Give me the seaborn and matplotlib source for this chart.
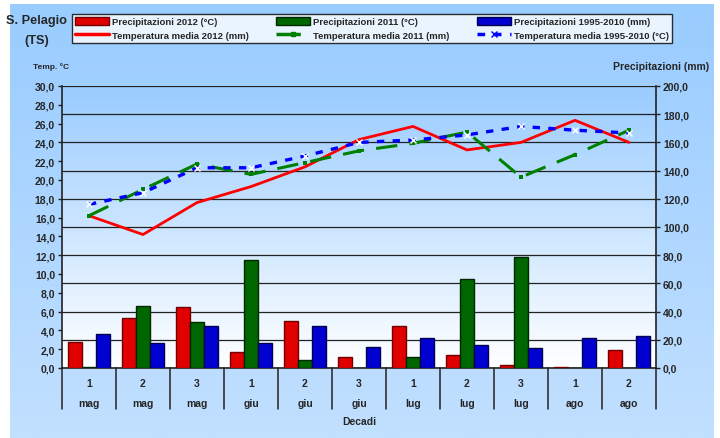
import numpy as np
import matplotlib
matplotlib.use("Agg")
import matplotlib.pyplot as plt
import seaborn as sns
import pandas as pd
from matplotlib.lines import Line2D
from matplotlib.patches import Patch

# --- data ---
decadi = ["1", "2", "3", "1", "2", "3", "1", "2", "3", "1", "2"]
mesi = ["mag", "mag", "mag", "giu", "giu", "giu", "lug", "lug", "lug", "ago", "ago"]

# precipitation (mm), right axis
prec_2012 = [18.7, 35.3, 43.3, 11.0, 33.0, 8.0, 29.5, 9.5, 2.0, 0.8, 12.5]
prec_2011 = [1.0, 44.0, 32.3, 76.3, 6.0, 0.3, 8.0, 63.0, 79.0, 0.0, 0.0]
prec_clim = [24.0, 18.0, 30.0, 18.0, 30.0, 15.0, 21.0, 16.5, 14.0, 21.0, 23.0]

# mean temperature (°C), left axis
temp_2012 = [16.2, 14.2, 17.6, 19.3, 21.4, 24.3, 25.7, 23.2, 24.0, 26.35, 24.0]
temp_2011 = [16.2, 19.0, 21.7, 20.6, 21.85, 23.1, 23.9, 25.1, 20.3, 22.7, 25.3]
temp_clim = [17.4, 18.65, 21.3, 21.3, 22.55, 24.0, 24.25, 24.8, 25.7, 25.3, 25.0]

lbl_p12 = "Precipitazioni 2012 (°C)"
lbl_p11 = "Precipitazioni 2011 (°C)"
lbl_pcl = "Precipitazioni 1995-2010 (mm)"
lbl_t12 = "Temperatura media 2012 (mm)"
lbl_t11 = "Temperatura media 2011 (mm)"
lbl_tcl = "Temperatura media 1995-2010 (°C)"

RED, GREEN, BLUE = "#E00000", "#006600", "#0000D0"

sns.set_style("white")
plt.rcParams["font.family"] = ["Liberation Sans", "DejaVu Sans"]
plt.rcParams["font.weight"] = "bold"

fig = plt.figure(figsize=(7.2, 4.39), dpi=100)

# background panel with a soft vertical gradient
bg = fig.add_axes([0, 0, 1, 1], zorder=-10)
grad = np.linspace(0, 1, 256).reshape(-1, 1)
bg_cmap = matplotlib.colors.LinearSegmentedColormap.from_list("bg", ["#99CCFF", "#C2E0FF"])
bg.imshow(grad, cmap=bg_cmap, aspect="auto", extent=[10 / 720, 714 / 720, 0, 1 - 5 / 439],
          transform=bg.transAxes)
bg.set_xlim(0, 1)
bg.set_ylim(0, 1)
bg.axis("off")

ax = fig.add_axes([62 / 720, 1 - 369 / 439, 594 / 720, 282 / 439])

# plot area gradient
area_cmap = matplotlib.colors.LinearSegmentedColormap.from_list("area", ["#FFFFFF", "#99CCFF"])
ax.imshow(grad, cmap=area_cmap, aspect="auto", extent=[0, 1, 0, 1],
          transform=ax.transAxes, zorder=0, origin="lower")

df = pd.DataFrame({
    "pos": list(range(len(decadi))) * 3,
    "serie": [lbl_p12] * len(decadi) + [lbl_p11] * len(decadi) + [lbl_pcl] * len(decadi),
    "mm": prec_2012 + prec_2011 + prec_clim,
})
sns.barplot(data=df, x="pos", y="mm", hue="serie", ax=ax, width=0.78, saturation=1,
            palette=[RED, GREEN, BLUE], legend=False, zorder=3)
for patch, ec in zip(ax.patches, ["#700000"] * 11 + ["#002800"] * 11 + ["#000050"] * 11):
    patch.set_edgecolor(ec)
    patch.set_linewidth(1.0)

ax.set_xlim(-0.5, len(decadi) - 0.5)
ax.set_ylim(0, 200)
ax.yaxis.grid(True, color="#222222", linewidth=0.9, zorder=1)
ax.set_axisbelow(True)
ax.set_xticks([])
ax.set_xlabel("")
ax.set_ylabel("")
ax.spines["top"].set_visible(False)
for s in ["left", "right", "bottom"]:
    ax.spines[s].set_color("#222222")
    ax.spines[s].set_linewidth(1.2)

ax2 = ax.twinx()
pos = np.arange(len(decadi))
sns.lineplot(x=pos, y=temp_2012, ax=ax2, color="#FF0000", linewidth=2.0, zorder=5)
sns.lineplot(x=pos, y=temp_2011, ax=ax2, color="#008000", linewidth=2.2, zorder=5,
             marker="s", markersize=3, markeredgewidth=0)
ax2.lines[-1].set_dashes([7, 4])
sns.lineplot(x=pos, y=temp_clim, ax=ax2, color="#0000FF", linewidth=2.4, zorder=6,
             marker="x", markersize=4, markeredgewidth=1)
ax2.lines[-1].set_dashes([2.2, 2.5])
ax2.set_ylim(0, 30)
ax2.set_ylabel("")
for s in ax2.spines.values():
    s.set_visible(False)

# swap sides: precipitation ticks on the right, temperature on the left
ax.yaxis.tick_right()
ax.set_yticks(np.arange(0, 201, 20))
ax.set_yticklabels([f"{v:.1f}".replace(".", ",") for v in np.arange(0, 201, 20)],
                   fontsize=7.5, fontweight="bold")
ax.tick_params(axis="y", length=3, width=1, color="#222222", pad=2)
ax2.yaxis.tick_left()
ax2.set_yticks(np.arange(0, 31, 2))
ax2.set_yticklabels([f"{v:.1f}".replace(".", ",") for v in np.arange(0, 31, 2)],
                    fontsize=7.5, fontweight="bold")
ax2.tick_params(axis="y", length=3, width=1, color="#222222", pad=2)

# category labels under the axis, two rows with separators
n = len(decadi)
for i, (d, m) in enumerate(zip(decadi, mesi)):
    xf = (i + 0.5) / n
    ax.text(xf, -0.053, d, transform=ax.transAxes, ha="center", va="center",
            fontsize=7.5, fontweight="bold")
    ax.text(xf, -0.124, m, transform=ax.transAxes, ha="center", va="center",
            fontsize=7.5, fontweight="bold")
for i in range(n + 1):
    ax.plot([i / n, i / n], [0, -0.145], transform=ax.transAxes, color="#222222",
            linewidth=1.1, clip_on=False)
ax.text(0.5, -0.187, "Decadi", transform=ax.transAxes, ha="center", va="center",
        fontsize=7.5, fontweight="bold")

fig.text(37 / 720, 1 - 21 / 439, "S. Pelagio", ha="center", va="center",
         fontsize=9.2, fontweight="bold")
fig.text(37 / 720, 1 - 41 / 439, "(TS)", ha="center", va="center",
         fontsize=9.2, fontweight="bold")
fig.text(33 / 720, 1 - 67 / 439, "Temp. °C", ha="left", va="center",
         fontsize=6, fontweight="bold")
fig.text(709 / 720, 1 - 67 / 439, "Precipitazioni (mm)", ha="right", va="center",
         fontsize=7.5, fontweight="bold")

handles = [
    Patch(facecolor=RED, edgecolor="#700000"),
    Line2D([], [], color="#FF0000", linewidth=2.5),
    Patch(facecolor=GREEN, edgecolor="#002800"),
    Line2D([], [], color="#008000", linewidth=2.5, dashes=[7, 4], marker="s", markersize=3,
           markevery=[1]),
    Patch(facecolor=BLUE, edgecolor="#000050"),
    Line2D([], [], color="#0000FF", linewidth=2.5, dashes=[2.2, 2.5], marker="x", markersize=4),
]
labels = [lbl_p12, lbl_t12, lbl_p11, lbl_t11, lbl_pcl, lbl_tcl]
leg = fig.legend(handles, labels, ncol=3, loc="lower left", mode="expand",
                 bbox_to_anchor=(72 / 720, 1 - 44 / 439, 600 / 720, 34 / 439),
                 prop={"weight": "bold", "size": 6.8}, frameon=True, fancybox=False,
                 edgecolor="black", handlelength=3.6, handleheight=0.9,
                 handletextpad=0.3, borderpad=0.35, labelspacing=0.45, borderaxespad=0)
leg.get_frame().set_linewidth(1.0)

fig.savefig("out.png", dpi=100)
